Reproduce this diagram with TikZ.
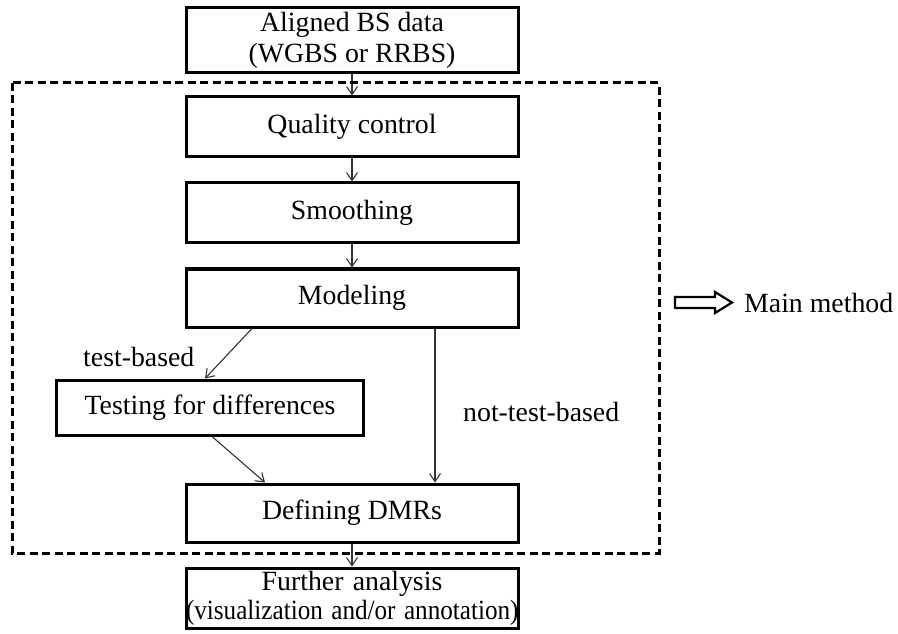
\documentclass[tikz,border=0pt]{standalone}
\usepackage{fontspec}
\setmainfont{Liberation Serif}
\usetikzlibrary{arrows.meta}

\tikzset{
  stage/.style={draw=black, line width=3bp, inner sep=0pt, align=center,
    minimum width=332bp, font=\fontsize{27.8bp}{31bp}\selectfont},
  flow/.style={draw=black!80, line width=1.1bp,
    -{Straight Barb[length=8bp,width=11bp,line width=1.1bp]}},
  label/.style={inner sep=0pt, font=\fontsize{27.8bp}{31bp}\selectfont},
  group/.style={draw=black, line width=3bp, dash pattern=on 8bp off 4.5bp},
  hollow/.style={draw=black, line width=2.2bp, fill=white, line join=miter}
}

\begin{document}
\begin{tikzpicture}[x=1bp,y=-1bp]
  \useasboundingbox (0,0) rectangle (898,634);

  % pipeline stages
  \node[stage, minimum height=65bp] (input) at (352,40.5)
    {Aligned BS data\\(WGBS or RRBS)};
  \node[stage, minimum height=60bp] (qc) at (352,127) {Quality control};
  \node[stage, minimum height=59bp] (smooth) at (352,212.5) {Smoothing};
  \node[stage, minimum height=58bp] (model) at (352,298) {Modeling};
  \node[stage, minimum width=306bp, minimum height=55bp] (test) at (210,407.5)
    {Testing for differences};
  \node[stage, minimum height=58bp] (dmr) at (352,513) {Defining DMRs};
  \node[stage, text width=332bp, minimum height=60bp,
    font=\fontsize{27.8bp}{29bp}\selectfont] (further) at (352,598)
    {Further analysis\\\scalebox{0.905}[1]{(visualization and/or annotation)}};

  % connectors
  \draw[flow] (input) -- (qc);
  \draw[flow] (qc) -- (smooth);
  \draw[flow] (smooth) -- (model);
  \draw[flow] ([xshift=-100bp]model.south) -- ([xshift=-5bp]test.north);
  \draw[flow] ([xshift=2bp]test.south) -- ([xshift=-87bp]dmr.north);
  \draw[flow] ([xshift=83bp]model.south) -- ([xshift=83bp]dmr.north);
  \draw[flow] (dmr) -- (further);

  % branch labels
  \node[label, anchor=west] (tb) at (83,357) {test-based};
  \node[label, anchor=west] (ntb) at (463,412) {not-test-based};

  % dashed frame around the main method
  \draw[group] (12,83) rectangle (659,553);

  % legend
  \draw[hollow] (675,297) -- (715,297) -- (715,292) -- (732,302.5)
    -- (715,313) -- (715,308) -- (675,308) -- cycle;
  \node[label, anchor=west] (legend) at (744,303) {Main method};
\end{tikzpicture}
\end{document}
